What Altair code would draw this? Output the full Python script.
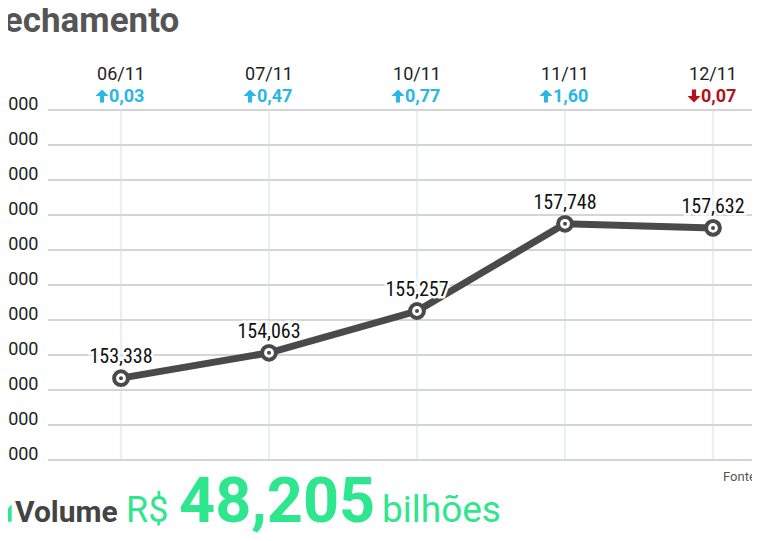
import altair as alt
import pandas as pd

# ---- data ----
dates = ["06/11", "07/11", "10/11", "11/11", "12/11"]
closes = [153338, 154063, 155257, 157748, 157632]
changes = [0.03, 0.47, 0.77, 1.60, -0.07]
y_ticks = [151000, 152000, 153000, 154000, 155000, 156000, 157000, 158000, 159000, 160000, 161000]

title_text = "Fechamento"
volume_label = "Volume"
volume_currency = "R$"
volume_value = "48,205"
volume_unit = "bilhões"
source_text = "Fonte: B3"

LINE = "#4a4a4a"
GREEN = "#2ee68d"
UP = "#2ab6e6"
DOWN = "#b3121c"

ARROW_UP = "M0,-1L1,0L0.32,0L0.32,1L-0.32,1L-0.32,0L-1,0Z"
ARROW_DOWN = "M0,1L1,0L0.32,0L0.32,-1L-0.32,-1L-0.32,0L-1,0Z"

df = pd.DataFrame({
    "idx": list(range(len(dates))),
    "date": dates,
    "close": closes,
    "change": changes,
})
df["label"] = [f"{v:,}" for v in closes]
df["chg_label"] = [f"{abs(c):.2f}".replace(".", ",") for c in changes]
df["chg_color"] = [UP if c >= 0 else DOWN for c in changes]
df["arrow"] = [ARROW_UP if c >= 0 else ARROW_DOWN for c in changes]

ticks_df = pd.DataFrame({"v": y_ticks})

W, H = 704, 350
xscale = alt.Scale(domain=[-73 / 148, (W - 73) / 148], nice=False, zero=False)
yscale = alt.Scale(domain=[y_ticks[0], y_ticks[-1]], nice=False, zero=False)

AX = alt.Axis(values=y_ticks, tickCount=len(y_ticks), domain=False, ticks=False,
              grid=False, labelOverlap=False, labelFlush=False,
              labelExpr="replace(format(datum.value, ',.0f'), ',', '.')",
              labelFont="Roboto", labelFontSize=18, labelColor="#222222",
              labelPadding=10, labelBaseline="alphabetic", labelOffset=-1)

base = alt.Chart(df)
X = alt.X("idx:Q", scale=xscale, axis=None)
Y = alt.Y("close:Q", scale=yscale, title=None, axis=AX)

hgrid = alt.Chart(ticks_df).mark_rule(color="#ababab", strokeWidth=1.2).encode(
    y=alt.Y("v:Q", scale=yscale, title=None, axis=AX),
    x=alt.value(0), x2=alt.value(W + 10))

rules = base.mark_rule(color="#cfe0e4", strokeWidth=1).encode(x=X)

line = base.mark_line(color=LINE, strokeWidth=7).encode(x=X, y=Y)

rings = base.mark_point(filled=True, fill="white", stroke=LINE, strokeWidth=4,
                        size=190, opacity=1, shape="circle").encode(x=X, y=Y)
dots = base.mark_circle(color=LINE, size=16, opacity=1).encode(x=X, y=Y)

lab_font = "Liberation Sans Narrow, Roboto Condensed, DejaVu Sans Condensed, sans-serif"
halo = base.mark_text(font=lab_font, fontSize=20, dy=-15, baseline="alphabetic",
                      stroke="white", strokeWidth=5, color="white").encode(
    x=X, y=Y, text="label:N")
labels = base.mark_text(font=lab_font, fontSize=20, dy=-15, baseline="alphabetic",
                        color="#111111").encode(
    x=X, y=Y, text="label:N")

date_text = base.mark_text(font="Roboto", fontSize=18, color="#222222", baseline="alphabetic").encode(
    x=X, y=alt.value(-30), text="date:N")
chg_text = base.mark_text(font="Roboto", fontSize=18, fontWeight="bold", align="left",
                          dx=-12, baseline="alphabetic").encode(
    x=X, y=alt.value(-8), text="chg_label:N", color=alt.Color("chg_color:N", scale=None))
arrows = base.mark_point(filled=True, opacity=1, size=170, xOffset=-19).encode(
    x=X, y=alt.value(-14), shape=alt.Shape("arrow:N", scale=None),
    color=alt.Color("chg_color:N", scale=None))

ann = alt.Chart(pd.DataFrame({"t": [title_text]}))
title = ann.mark_text(font="Roboto", fontSize=35, fontWeight="bold", color="#555555",
                      align="left", baseline="alphabetic").encode(
    x=alt.value(-63), y=alt.value(-78), text="t:N")

def bottom(text, x, size, weight, color, font="Roboto"):
    return alt.Chart(pd.DataFrame({"t": [text]})).mark_text(
        font=font, fontSize=size, fontWeight=weight, color=color,
        align="left", baseline="alphabetic").encode(x=alt.value(x), y=alt.value(412), text="t:N")

vol = bottom(volume_label, -33, 30, "bold", "#444444")
cur = bottom(volume_currency, 78, 36, "normal", GREEN)
val = bottom(volume_value, 131, 63, "bold", GREEN)
unit = bottom(volume_unit, 334, 37, "normal", GREEN)

icon = alt.Chart(pd.DataFrame({"t": [0]})).mark_point(
    shape="M-1,1L-1,-0.1L-0.4,-0.7L0.2,-0.1L1,-1L1,1Z", filled=True, color=GREEN,
    size=300, opacity=1).encode(x=alt.value(-45), y=alt.value(403))

src = alt.Chart(pd.DataFrame({"t": [source_text]})).mark_text(
    font="Roboto", fontSize=13, color="#555555", align="left", baseline="alphabetic").encode(
    x=alt.value(675), y=alt.value(371), text="t:N")

chart = alt.layer(hgrid, rules, line, rings, dots, halo, labels, date_text, chg_text, arrows,
                  title, vol, cur, val, unit, icon, src).properties(
    width=W, height=H,
    autosize=alt.AutoSizeParams(type="none"),
    padding={"left": 40, "top": 102, "right": 0, "bottom": 76},
    background="white",
).configure_view(stroke=None)

chart.save("out.html", embed_options={"renderer": "svg", "actions": False})
